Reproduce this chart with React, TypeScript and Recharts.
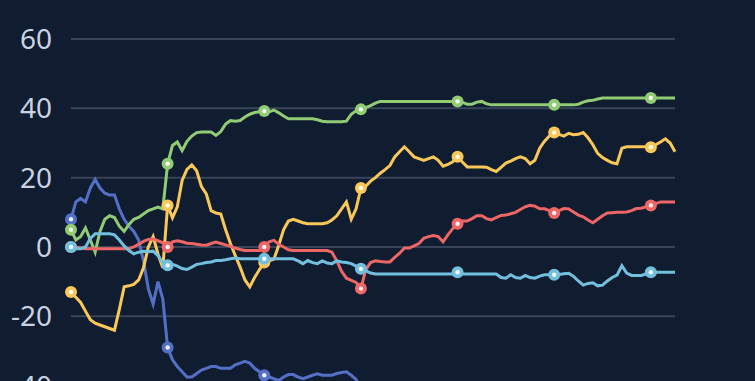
import React from "react";
import { LineChart, Line, XAxis, YAxis, CartesianGrid } from "recharts";

// values, one per step (markers every 20th point)
const blue = [
  8, 13, 14, 13, 17, 19.5, 17, 15.5, 15, 15, 11, 8, 6, 4.5, 2, -4, -12, -16.5, -10, -15, -29,
  -32.5, -34.5, -36, -37.5, -37.5, -36.5, -35.5, -35, -34.5, -34.5, -35, -35, -35, -34, -33.5, -33, -33.5, -35, -36, -37,
  -37.5, -38, -38.5, -37.5, -36.8, -36.8, -37.5, -38, -37.5, -37, -36.6, -37, -37, -37, -36.5, -36.2, -36, -37, -38.2, -41,
  -43, -44, -45, -44, -43, -44, -46, -45, -44, -45, -46, -47, -46, -45, -46, -47, -46, -45, -46, -47,
  -48, -47, -46, -47, -48, -47, -46, -47, -48, -49, -48, -47, -48, -49, -48, -47, -48, -49, -50, -49,
  -48, -49, -50, -49, -48, -49, -50, -51, -50, -49, -50, -51, -50, -49, -50, -51, -52, -51, -50, -51,
  -52, -51, -50, -51, -52,
];
const green = [
  5, 2, 3, 5.5, 2, -1.5, 4.5, 8, 9, 8.5, 6, 4.5, 6.5, 8, 8.5, 9.5, 10.5, 11, 11.5, 11, 24,
  29.3, 30.3, 27.8, 30.5, 32, 33, 33.2, 33.2, 33.2, 32.2, 33.3, 35.5, 36.5, 36.3, 36.5, 37.5, 38.3, 38.8, 39, 39.2,
  39, 39.5, 38.7, 37.8, 37, 37, 37, 37, 37, 37, 36.7, 36.3, 36.1, 36.1, 36.1, 36.1, 36.3, 38.3, 39.3, 39.7,
  40.2, 40.8, 41.5, 42, 42, 42, 42, 42, 42, 42, 42, 42, 42, 42, 42, 42, 42, 42, 42, 42,
  41.7, 41.2, 41.2, 41.8, 42, 41.3, 41, 41, 41, 41, 41, 41, 41, 41, 41, 41, 41, 41, 41, 41,
  41, 41, 41, 41, 41.2, 41.8, 42.2, 42.3, 42.7, 43, 43, 43, 43, 43, 43, 43, 43, 43, 43, 43,
  43, 43, 43, 43, 43,
];
const yellow = [
  -13, -14.5, -16, -18.5, -21, -22, -22.5, -23, -23.5, -24, -18, -11.5, -11.2, -10.8, -9.5, -6, 0, 3, -2, -6, 12,
  8.4, 11.6, 19.2, 22.4, 23.7, 22, 17.4, 15.3, 10.5, 9.8, 9.5, 5, 1, -2.5, -5.8, -9.5, -11.5, -8.8, -6.5, -4.5,
  -4, -3.5, 0.5, 5, 7.5, 8, 7.5, 7, 6.7, 6.7, 6.7, 6.7, 7, 7.8, 9, 11, 13, 8, 11, 17,
  17.5, 19, 20, 21.3, 22.3, 23.5, 26, 27.5, 28.9, 27.5, 26, 25.5, 25, 25.5, 26, 25, 23.3, 23.8, 24.6, 26,
  24.5, 23.1, 23.1, 23.1, 23.1, 23, 22.3, 21.8, 23, 24.2, 24.8, 25.5, 26, 25.5, 24, 25, 28.5, 30.5, 32, 33,
  32.5, 32, 32.8, 32.4, 32.5, 33, 31.5, 29.5, 27, 25.8, 25, 24.3, 24, 28.5, 28.9, 28.9, 28.9, 28.9, 28.9, 28.8,
  29.5, 30.3, 31.2, 30, 27.5,
];
const red = [
  0, 0, -0.3, -0.5, -0.5, -0.5, -0.5, -0.5, -0.5, -0.5, -0.5, -0.5, -0.5, 0, 0.8, 1.6, 2.2, 2.3, 1.8, 1.2, 0,
  1.5, 1.8, 1.5, 1.1, 1, 0.8, 0.6, 0.5, 1, 1.4, 1, 0.6, 0.2, -0.3, -0.7, -1, -1, -1, -1, 0,
  1.5, 1.9, 0.8, 0, -0.8, -1, -1, -1, -1, -1, -1, -1, -1, -1.5, -4, -7, -9, -9.6, -10.2, -12,
  -6.5, -4.5, -4, -4.2, -4.3, -4.3, -3, -1.8, -0.3, -0.3, 0.3, 1, 2.5, 3, 3.3, 3, 1.5, 3.5, 5.3, 6.7,
  7.5, 7.5, 8.2, 9, 9, 8.2, 7.8, 8.5, 9.1, 9.2, 9.6, 10, 10.8, 11.6, 12, 11.8, 11, 11, 10.5, 9.8,
  10.5, 11.1, 11, 10.1, 9.2, 8.7, 7.8, 7, 8, 9, 9.8, 9.9, 10, 10, 10.1, 10.5, 11.1, 11.2, 11.6, 12,
  12.5, 13, 13, 13, 13,
];
const cyan = [
  0, -0.5, -0.5, 0, 2.5, 3.8, 3.8, 3.8, 3.8, 3.5, 2, 0.3, -1, -2, -1.5, -1.2, -1.4, -1.2, -2.5, -4.5, -5.3,
  -5, -5.5, -6.2, -6.5, -5.8, -5, -4.8, -4.5, -4.3, -3.9, -3.9, -3.7, -3.4, -3.2, -3.4, -3.4, -3.4, -3.4, -3.4, -3.4,
  -3.4, -3.4, -3.4, -3.4, -3.4, -3.4, -4, -4.8, -3.9, -4.5, -4.8, -4, -4.6, -4.8, -4, -4.3, -4.5, -4.8, -5.5, -6.3,
  -6.8, -7.5, -7.8, -7.8, -7.8, -7.8, -7.8, -7.8, -7.8, -7.8, -7.8, -7.8, -7.8, -7.8, -7.8, -7.8, -7.8, -7.8, -7.8, -7.3,
  -7.8, -7.8, -7.8, -7.8, -7.8, -7.8, -7.8, -7.8, -8.8, -9, -8, -8.8, -9, -8.2, -8.8, -9, -8.4, -8, -8, -8,
  -7.9, -7.7, -7.6, -8.5, -9.8, -11, -10.5, -10.3, -11.2, -11, -9.8, -8.8, -8.1, -5.4, -7.5, -8.2, -8.2, -8.2, -7.8, -7.3,
  -7.3, -7.3, -7.3, -7.3, -7.3,
];
const yTicks = [60, 40, 20, 0, -20, -40, -60];

const series = [
  { key: "blue", color: "#5470c6" },
  { key: "green", color: "#91cc75" },
  { key: "yellow", color: "#fac858" },
  { key: "red", color: "#ee6666" },
  { key: "cyan", color: "#73c0de" },
];

const data = blue.map((v, i) => ({
  i,
  blue: v,
  green: green[i],
  yellow: yellow[i],
  red: red[i],
  cyan: cyan[i],
}));

const makeDot = (color: string) => (props: any) => {
  const { cx, cy, index } = props;
  if (index % 20 !== 0 || cx == null || cy == null) return <g key={`e-${index}`} />;
  return (
    <g key={`d-${index}`}>
      <circle cx={cx} cy={cy} r={6} fill={color} />
      <circle cx={cx} cy={cy} r={2.2} fill="#ffffff" fillOpacity={0.9} />
    </g>
  );
};

const App = () => {
  return (
    <div style={{ position: "absolute", left: 0, top: 0, width: 755, height: 381, overflow: "hidden", background: "#101c30" }}>
      <LineChart width={755} height={475} data={data} margin={{ top: 39, right: 80, bottom: 20, left: 0 }}>
        <CartesianGrid vertical={false} stroke="#37445a" strokeWidth={2} />
        <XAxis dataKey="i" hide />
        <YAxis
          domain={[-60, 60]}
          ticks={yTicks}
          width={71}
          axisLine={false}
          tickLine={false}
          tickMargin={13}
          tick={{ fill: "#c9d3e1", fontSize: 28, fontFamily: "Noto Sans" }}
        />
        {series.map((s) => (
          <Line
            key={s.key}
            type="linear"
            dataKey={s.key}
            stroke={s.color}
            strokeWidth={3}
            dot={makeDot(s.color)}
            activeDot={false}
            isAnimationActive={false}
          />
        ))}
      </LineChart>
    </div>
  );
};

export default App;
